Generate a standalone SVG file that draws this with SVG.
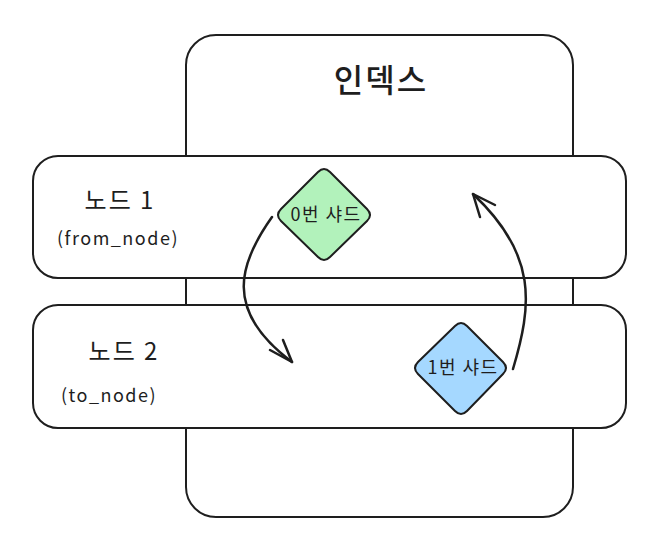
<svg xmlns="http://www.w3.org/2000/svg" width="664" height="552" viewBox="0 0 664 552">
<defs>
<style>
.box{fill:#ffffff;stroke:#1e1e1e;stroke-width:2}
.t{font-family:"Noto Sans CJK KR","Noto Sans",sans-serif;fill:#1e1e1e}
.dia{stroke:#1e1e1e;stroke-width:2;stroke-linejoin:round}
.con{fill:none;stroke:#1e1e1e;stroke-width:2.5;stroke-linecap:round;stroke-linejoin:round}
</style>
</defs>
<rect width="664" height="552" fill="#ffffff"/>
<g id="index">
<rect class="box" x="186" y="35" width="387" height="482" rx="30"/>
<text class="t" x="381" y="92" font-size="32" font-weight="500" letter-spacing="2" text-anchor="middle">인덱스</text>
</g>
<g id="node1">
<rect class="box" x="33" y="156" width="593" height="122" rx="25"/>
<text class="t" x="120" y="209" font-size="24" letter-spacing="2" text-anchor="middle">노드 1</text>
<text class="t" x="118" y="245" font-size="18" letter-spacing="1.5" text-anchor="middle">(from_node)</text>
</g>
<g id="node2">
<rect class="box" x="33" y="305" width="593" height="123" rx="25"/>
<text class="t" x="124" y="360" font-size="24" letter-spacing="2" text-anchor="middle">노드 2</text>
<text class="t" x="109" y="402" font-size="18" letter-spacing="1.5" text-anchor="middle">(to_node)</text>
</g>
<g id="shard0">
<path class="dia" fill="#b2f2bb" d="M318,172 Q324,166 330,172 L367,209 Q373,215 367,221 L330,257 Q324,263 318,257 L281,221 Q275,215 281,209 Z"/>
<text class="t" x="326" y="221" font-size="18" letter-spacing="1.5" text-anchor="middle">0번 샤드</text>
</g>
<g id="shard1">
<path class="dia" fill="#a5d8ff" d="M455,326 Q461,320 467,326 L503,362 Q509,368 503,374 L467,411 Q461,417 455,411 L418,374 Q412,368 418,362 Z"/>
<text class="t" x="463" y="374" font-size="18" letter-spacing="1.5" text-anchor="middle">1번 샤드</text>
</g>
<g id="connectors">
<path class="con" d="M272,217 C240,262 222,310 292,362"/>
<polyline class="con" points="270,350 292,362 283,340"/>
<path class="con" d="M513,369 C532,305 538,255 473,194"/>
<polyline class="con" points="495,205 473,194 480,217"/>
</g>
</svg>
